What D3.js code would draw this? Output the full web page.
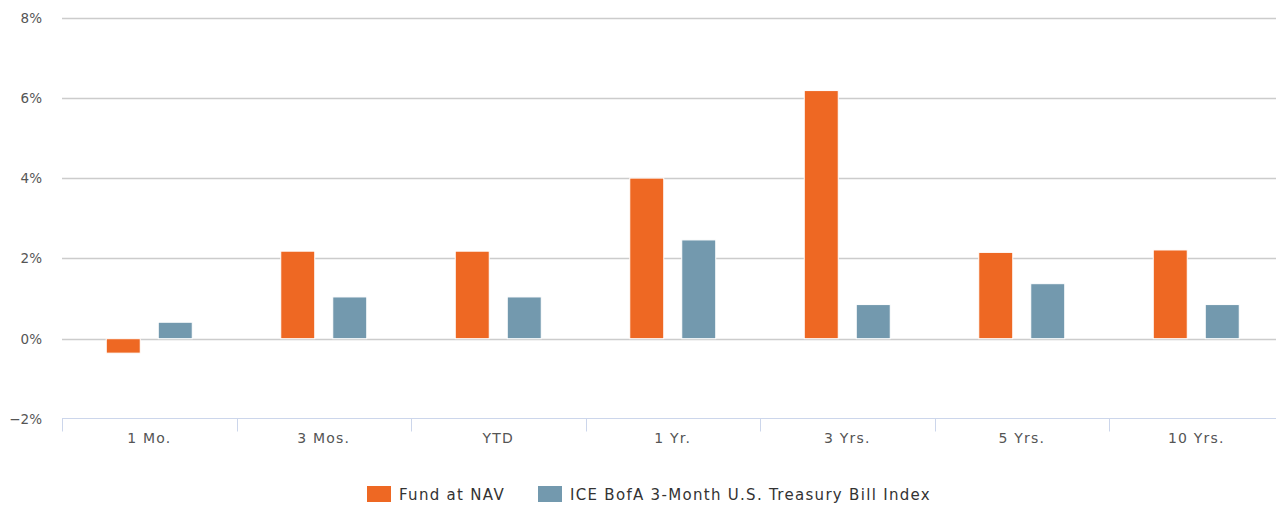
<!DOCTYPE html>
<html>
<head>
<meta charset="utf-8">
<script src="https://cdn.jsdelivr.net/npm/d3@7"></script>
<style>
  body { margin: 0; background: #fff; }
  svg { display: block; font-family: "DejaVu Sans", Verdana, sans-serif; }
</style>
</head>
<body>
<svg id="chart" width="1276" height="506"></svg>
<script>
var categories = ["1 Mo.", "3 Mos.", "YTD", "1 Yr.", "3 Yrs.", "5 Yrs.", "10 Yrs."];
var fundValues = [-0.36, 2.18, 2.18, 4.00, 6.18, 2.15, 2.21];
var indexValues = [0.41, 1.04, 1.04, 2.46, 0.85, 1.37, 0.85];
var seriesNames = ["Fund at NAV", "ICE BofA 3-Month U.S. Treasury Bill Index"];
var seriesColors = ["#ee6823", "#7399ae"];
var yTicks = [-2, 0, 2, 4, 6, 8];

var svg = d3.select("#chart");
var plotLeft = 62, plotRight = 1283.5, plotTop = 17.5, plotBottom = 419;

var x = d3.scaleBand().domain(categories).range([plotLeft, plotRight]);
var y = d3.scaleLinear().domain([-2, 8]).range([plotBottom, plotTop]);
var barW = 34, offset = 26;

// grid
svg.append("g").selectAll("line")
  .data(yTicks.filter(function(d){ return d !== -2; }))
  .enter().append("line")
  .attr("x1", plotLeft).attr("x2", 1276)
  .attr("y1", function(d){ return Math.round(y(d)) + 0.5; })
  .attr("y2", function(d){ return Math.round(y(d)) + 0.5; })
  .attr("stroke", "#cccccc").attr("stroke-width", 1.5);

// y labels
svg.append("g").selectAll("text")
  .data(yTicks)
  .enter().append("text")
  .attr("x", 42).attr("y", function(d){ return y(d) + 5; })
  .attr("text-anchor", "end")
  .attr("font-size", 13.5).attr("fill", "#555")
  .text(function(d){ return (d < 0 ? "\u2212" + (-d) : d) + "%"; });

// x axis
var gx = svg.append("g").attr("transform", "translate(0," + (Math.round(plotBottom) - 0.5) + ")");
gx.append("path").attr("d", "M" + plotLeft + ",0H1276").attr("stroke", "#ccd6eb").attr("fill", "none");
gx.selectAll(".edge").data(categories).enter().append("line")
  .attr("x1", function(d){ return Math.round(x(d)) + 0.5; })
  .attr("x2", function(d){ return Math.round(x(d)) + 0.5; })
  .attr("y1", 0).attr("y2", 13)
  .attr("stroke", "#ccd6eb");

svg.append("g").selectAll("text")
  .data(categories)
  .enter().append("text")
  .attr("x", function(d){ return x(d) + x.bandwidth() / 2; })
  .attr("y", 443)
  .attr("text-anchor", "middle")
  .attr("font-size", 14).attr("letter-spacing", "1.2px").attr("fill", "#555")
  .text(function(d){ return d; });

// bars
[fundValues, indexValues].forEach(function(vals, s) {
  svg.append("g").selectAll("rect")
    .data(vals)
    .enter().append("rect")
    .attr("x", function(d, i){ return x(categories[i]) + x.bandwidth() / 2 + (s === 0 ? -offset : offset) - barW / 2; })
    .attr("y", function(d){ return y(Math.max(0, d)); })
    .attr("width", barW)
    .attr("height", function(d){ return Math.abs(y(d) - y(0)); })
    .attr("fill", seriesColors[s])
    .attr("stroke", "#ffffff").attr("stroke-width", 1);
});

// legend
var legend = svg.append("g");
var lx = [367, 538];
seriesNames.forEach(function(name, i) {
  legend.append("rect")
    .attr("x", lx[i]).attr("y", 486).attr("width", 24).attr("height", 16)
    .attr("fill", seriesColors[i]);
  legend.append("text")
    .attr("x", lx[i] + 32).attr("y", 499.5)
    .attr("font-size", 15).attr("letter-spacing", "1.3px").attr("fill", "#333")
    .text(name);
});
</script>
</body>
</html>
